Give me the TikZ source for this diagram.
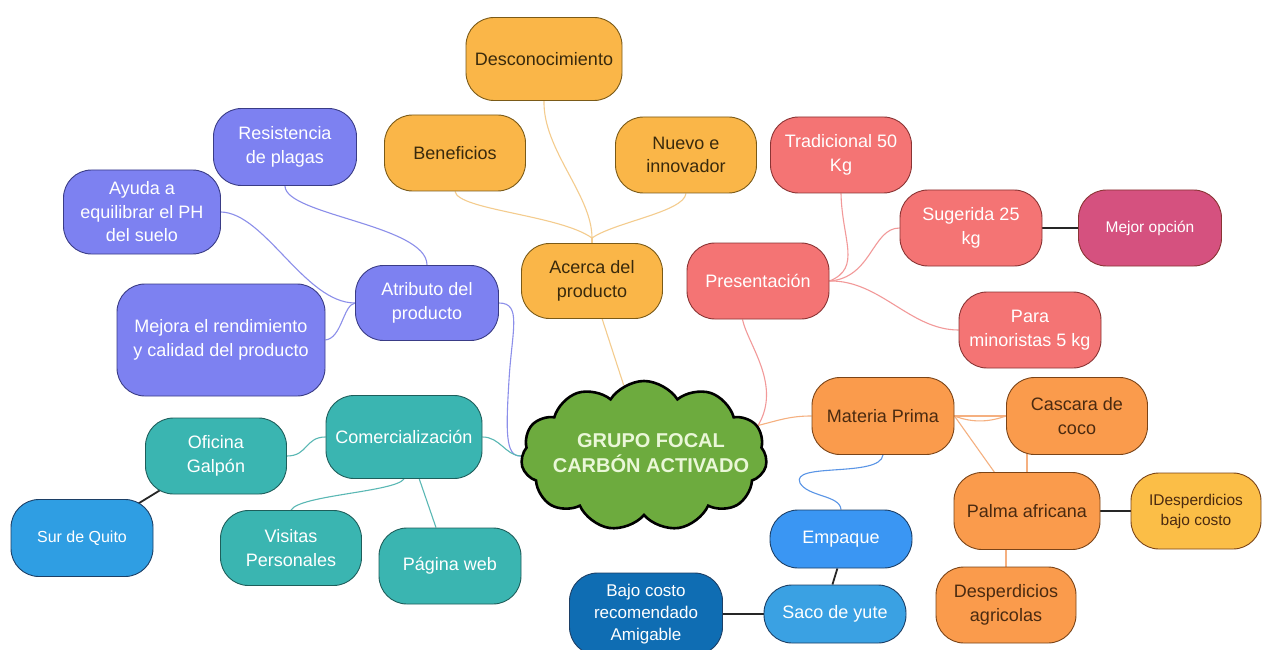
\documentclass[tikz,border=0pt]{standalone}
\usepackage{fontspec}
\setmainfont{Liberation Sans}
\usetikzlibrary{shapes.symbols,backgrounds}
\definecolor{cOrg}{HTML}{FAB648}
\definecolor{cOrgD}{HTML}{7A5A18}
\definecolor{cOrgT}{HTML}{3A2A0C}
\definecolor{cPur}{HTML}{7D81F1}
\definecolor{cPurD}{HTML}{3A3C86}
\definecolor{cPnk}{HTML}{F47474}
\definecolor{cPnkD}{HTML}{8A3434}
\definecolor{cMag}{HTML}{D5517F}
\definecolor{cTea}{HTML}{3AB5B1}
\definecolor{cTeaD}{HTML}{1E5E5B}
\definecolor{cSky}{HTML}{2F9EE3}
\definecolor{cEmp}{HTML}{3A96F3}
\definecolor{cSac}{HTML}{3AA1E3}
\definecolor{cNav}{HTML}{0F6DB3}
\definecolor{cBluD}{HTML}{1C3F66}
\definecolor{cMp}{HTML}{FA9B4C}
\definecolor{cMpD}{HTML}{7A4418}
\definecolor{cMpT}{HTML}{4A2A10}
\definecolor{cYel}{HTML}{FBBE47}
\definecolor{cGrn}{HTML}{6DAB3E}
\definecolor{cGrnT}{HTML}{EAF7D8}
\definecolor{lOrg}{HTML}{F4CC8E}
\definecolor{lPur}{HTML}{8C8FEA}
\definecolor{lPnk}{HTML}{F29999}
\definecolor{lTea}{HTML}{5AB8B4}
\definecolor{lMp}{HTML}{F5B080}
\definecolor{lBlu}{HTML}{5A95E6}
\tikzset{
  mbox/.style={draw, rounded corners=28pt, line width=0.9pt, align=center, inner sep=2pt,
    font=\fontsize{18}{23.5}\selectfont},
  sz/.style 2 args={minimum width=#1pt, minimum height=#2pt},
  org/.style={mbox, fill=cOrg, draw=cOrgD, text=cOrgT},
  pur/.style={mbox, fill=cPur, draw=cPurD, text=white},
  pnk/.style={mbox, fill=cPnk, draw=cPnkD, text=white},
  mag/.style={mbox, fill=cMag, draw=cPnkD, text=white, font=\fontsize{15.5}{20}\selectfont},
  tea/.style={mbox, fill=cTea, draw=cTeaD, text=white},
  sky/.style={mbox, fill=#1, draw=cBluD, text=white},
  mpo/.style={mbox, fill=cMp, draw=cMpD, text=cMpT},
  yel/.style={mbox, fill=cYel, draw=cMpD, text=cMpT, font=\fontsize{15.5}{20}\selectfont},
  conn/.style={line width=1.1pt},
  lorg/.style={conn, draw=lOrg},
  lpur/.style={conn, draw=lPur},
  lpnk/.style={conn, draw=lPnk},
  ltea/.style={conn, draw=lTea},
  lmp/.style={conn, draw=lMp},
  lblu/.style={conn, draw=lBlu},
  ldark/.style={line width=1.8pt, draw=black!85},
}
\begin{document}
\begin{tikzpicture}[x=1pt,y=-1pt]
\useasboundingbox (0,0) rectangle (1262,650);
% orange group
\node[org, sz={156}{83}] (des) at (544,59) {Desconocimiento};
\node[org, sz={141}{76}] (ben) at (455,153) {Beneficios};
\node[org, sz={141}{76}] (nue) at (686,155) {Nuevo e\\innovador};
\node[org, sz={141}{75}] (ace) at (592,281) {Acerca del\\producto};
% purple group
\node[pur, sz={143}{77}] (res) at (285,147) {Resistencia\\de plagas};
\node[pur, sz={157}{84}] (ayu) at (142,212) {Ayuda a\\equilibrar el PH\\del suelo};
\node[pur, sz={143}{75}] (atr) at (427,303) {Atributo del\\producto};
\node[pur, sz={208}{112}] (mej) at (221,340) {Mejora el rendimiento\\y calidad del producto};
% teal group
\node[tea, sz={156}{83}] (com) at (404,437) {Comercialización};
\node[tea, sz={141}{76}] (ofi) at (216,456) {Oficina\\Galpón};
\node[sky=cSky, sz={142}{77}, font=\fontsize{16}{20}\selectfont] (sur) at (82,538) {Sur de Quito};
\node[tea, sz={141}{75}] (vis) at (291,548) {Visitas\\Personales};
\node[tea, sz={142}{76}] (pag) at (450,566) {Página web};
% pink group
\node[pnk, sz={141}{76}] (tra) at (841,155) {Tradicional 50\\Kg};
\node[pnk, sz={142}{76}] (sug) at (971,228) {Sugerida 25\\kg};
\node[mag, sz={143}{76}] (mop) at (1150,228) {Mejor opción};
\node[pnk, sz={142}{76}] (pre) at (758,281) {Presentación};
\node[pnk, sz={142}{76}] (par) at (1030,330) {Para\\minoristas 5 kg};
% materia prima group
\node[mpo, sz={142}{77}] (mp) at (883,416) {Materia Prima};
\node[mpo, sz={141}{77}] (cas) at (1077,416) {Cascara de\\coco};
\node[mpo, sz={146}{77}] (pal) at (1027,511) {Palma africana};
\node[yel, sz={130}{76}] (ides) at (1196,511) {IDesperdicios\\bajo costo};
\node[mpo, sz={140}{76}] (dag) at (1006,605) {Desperdicios\\agricolas};
% packaging
\node[sky=cEmp, sz={142}{58}] (emp) at (841,539) {Empaque};
\node[sky=cSac, sz={142}{58}] (saco) at (835,614) {Saco de yute};
\node[sky=cNav, sz={153}{82}, font=\fontsize{17}{22}\selectfont] (bajo) at (646,614) {Bajo costo\\recomendado\\Amigable};
% centre cloud
\node[cloud, cloud puffs=11, cloud puff arc=115, aspect=1.65, draw=black, line width=2.6pt,
  fill=cGrn, minimum width=246pt, minimum height=150pt, inner sep=0pt] (cloud) at (644,456) {};
\node[align=center, text=cGrnT, font=\bfseries\fontsize{20}{25}\selectfont] (cloudtxt) at (651,453) {GRUPO FOCAL\\CARBÓN ACTIVADO};

\begin{scope}[on background layer]
\fill[white] (0,0) rectangle (1262,650);
\coordinate (aj) at (592,238);
\draw[lorg] (des.south) .. controls (543,150) and (592,195) .. (aj);
\draw[lorg] (ben.south) .. controls (458,210) and (560,215) .. (aj);
\draw[lorg] (nue.south) .. controls (684,212) and (615,222) .. (aj);
\draw[lorg] (aj) -- (ace.north);
\draw[lorg] (ace.-75) -- (cloud.106);
% purple
\draw[lpur] (res.south) .. controls (285,215) and (427,225) .. (atr.north);
\draw[lpur] (ayu.east) .. controls (265,213) and (305,303) .. (atr.west);
\draw[lpur] (mej.east) .. controls (342,338) and (343,305) .. (atr.west);
\draw[lpur] (atr.east) .. controls (522,303) and (512,330) .. (509,380) .. controls (506,430) and (505,457) .. (cloud.west);
% teal
\draw[ltea] (com.east) .. controls (500,437) and (505,455) .. (cloud.west);
\draw[ltea] (com.west) .. controls (305,437) and (308,456) .. (ofi.east);
\draw[ltea] (com.south) .. controls (395,492) and (300,495) .. (vis.north);
\draw[ltea] (com.-70) -- (pag.110);
% pink
\draw[lpnk] (tra.south) .. controls (842,240) and (862,268) .. (pre.east);
\draw[lpnk] (sug.west) .. controls (872,228) and (872,278) .. (pre.east);
\draw[lpnk] (pre.east) .. controls (880,280) and (910,330) .. (par.west);
\draw[lpnk] (pre.-112) .. controls (748,345) and (782,385) .. (cloud.15);
% materia prima
\draw[lmp] (mp.west) .. controls (790,416) and (780,420) .. (cloud.15);
\draw[lmp] (mp.east) -- (cas.west);
\draw[lmp] (mp.east) .. controls (975,424) and (992,421) .. (cas.west);
\draw[lmp] (mp.east) -- (pal.130);
\draw[lmp] (pal.north) -- (pal.north |- cas.center);
\draw[lmp] (dag.north) -- (dag.north |- pal.center);
% blue
\draw[lblu] (mp.south) .. controls (880,478) and (790,462) .. (800,483) .. controls (808,497) and (840,495) .. (emp.north);
% dark
\draw[ldark] (ofi.center) -- (sur.center);
\draw[ldark] (sug.east) -- (mop.west);
\draw[ldark] (pal.east) -- (ides.west);
\draw[ldark] (emp.-97) -- (saco.95);
\draw[ldark] (saco.west) -- (bajo.east);
\end{scope}
\end{tikzpicture}
\end{document}
